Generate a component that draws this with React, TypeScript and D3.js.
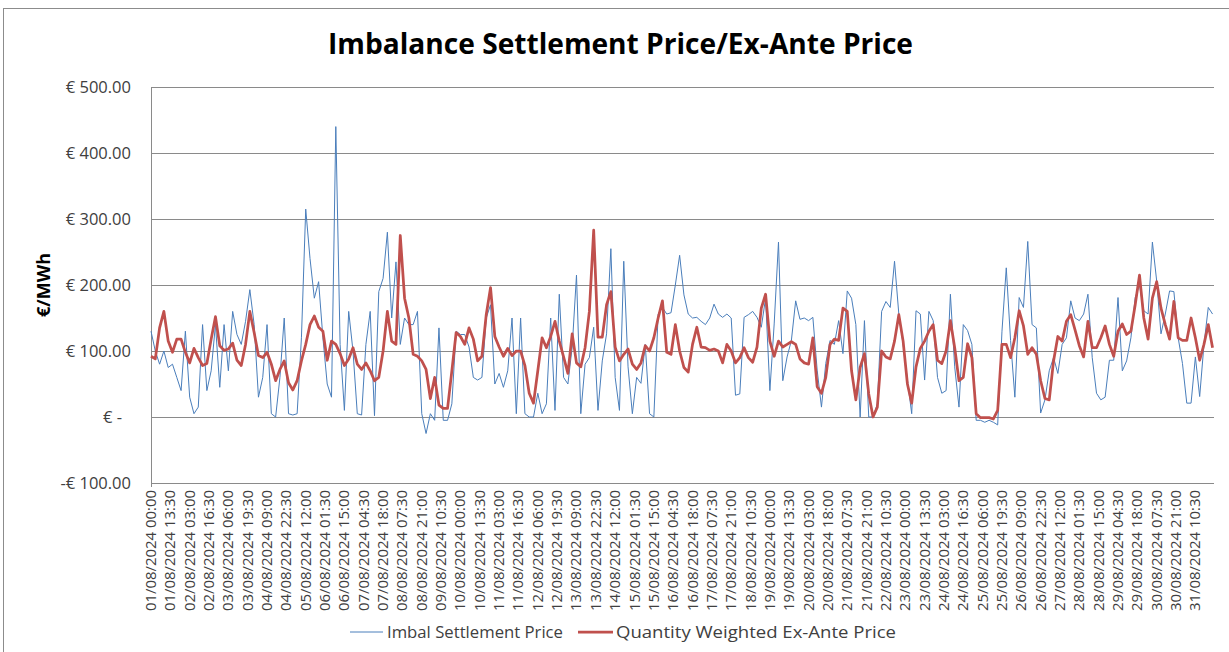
import * as d3 from "d3";
import React from "react";

// category labels on the x axis (every 27 half-hour slots)
const xLabels = [
  "01/08/2024 00:00", "01/08/2024 13:30", "02/08/2024 03:00", "02/08/2024 16:30",
  "03/08/2024 06:00", "03/08/2024 19:30", "04/08/2024 09:00", "04/08/2024 22:30",
  "05/08/2024 12:00", "06/08/2024 01:30", "06/08/2024 15:00", "07/08/2024 04:30",
  "07/08/2024 18:00", "08/08/2024 07:30", "08/08/2024 21:00", "09/08/2024 10:30",
  "10/08/2024 00:00", "10/08/2024 13:30", "11/08/2024 03:00", "11/08/2024 16:30",
  "12/08/2024 06:00", "12/08/2024 19:30", "13/08/2024 09:00", "13/08/2024 22:30",
  "14/08/2024 12:00", "15/08/2024 01:30", "15/08/2024 15:00", "16/08/2024 04:30",
  "16/08/2024 18:00", "17/08/2024 07:30", "17/08/2024 21:00", "18/08/2024 10:30",
  "19/08/2024 00:00", "19/08/2024 13:30", "20/08/2024 03:00", "20/08/2024 18:00",
  "21/08/2024 07:30", "21/08/2024 21:00", "22/08/2024 10:30", "23/08/2024 00:00",
  "23/08/2024 13:30", "24/08/2024 03:00", "24/08/2024 16:30", "25/08/2024 06:00",
  "25/08/2024 19:30", "26/08/2024 09:00", "26/08/2024 22:30", "27/08/2024 12:00",
  "28/08/2024 01:30", "28/08/2024 15:00", "29/08/2024 04:30", "29/08/2024 18:00",
  "30/08/2024 07:30", "30/08/2024 21:00", "31/08/2024 10:30",
];
const LABEL_EVERY = 27;
const SLOTS = 1485; // half-hour slots in the month (a few missing)
const SAMPLE_STEP = 6; // values below are read every 3 hours

const yTicks = [-100, 0, 100, 200, 300, 400, 500];

// Imbal Settlement Price, €/MWh, one row per day
const imbalPrice = [
  130, 100, 80, 100, 75, 80, 60, 40,
  130, 30, 5, 15, 140, 40, 70, 140,
  45, 140, 70, 160, 125, 110, 145, 193,
  140, 30, 60, 140, 5, 0, 60, 150,
  5, 3, 5, 120, 315, 240, 180, 205,
  120, 50, 30, 440, 110, 10, 160, 100,
  5, 3, 110, 160, 2, 190, 210, 280,
  150, 235, 110, 150, 140, 140, 160, 5,
  -25, 5, -5, 135, -5, -5, 20, 130,
  125, 125, 106, 60, 56, 60, 150, 170,
  50, 66, 45, 70, 150, 5, 150, 5,
  0, 0, 36, 5, 20, 150, 10, 186,
  60, 50, 106, 215, 5, 80, 90, 136,
  10, 85, 126, 255, 60, 10, 236, 76,
  5, 60, 51, 110, 5, 0, 156, 166,
  156, 158, 200, 245, 185, 156, 150, 151,
  145, 140, 150, 171, 156, 151, 156, 150,
  33, 35, 151, 155, 160, 151, 136, 180,
  40, 141, 265, 55, 91, 116, 176, 148,
  150, 146, 151, 71, 15, 81, 116, 110,
  146, 96, 191, 180, 140, 0, 146, 0,
  0, 20, 160, 175, 166, 236, 156, 110,
  56, 5, 161, 156, 56, 160, 146, 60,
  36, 40, 186, 76, 15, 140, 131, 110,
  -5, -5, -8, -5, -8, -12, 130, 226,
  116, 30, 181, 166, 266, 140, 135, 6,
  26, 70, 90, 66, 110, 120, 176, 150,
  146, 156, 186, 90, 36, 26, 30, 86,
  86, 181, 70, 85, 120, 181, 200, 161,
  156, 265, 206, 126, 156, 191, 190, 120,
  81, 21, 21, 91, 31, 110, 166, 156,
];

// Quantity Weighted Ex-Ante Price, €/MWh, one row per day
const exAntePrice = [
  92, 88, 135, 160, 115, 98, 118, 118,
  98, 82, 104, 90, 78, 81, 118, 152,
  108, 101, 103, 112, 86, 78, 110, 160,
  128, 93, 90, 98, 80, 55, 72, 85,
  52, 41, 55, 85, 110, 140, 153, 136,
  130, 86, 115, 110, 96, 78, 88, 105,
  80, 72, 82, 70, 55, 60, 100, 160,
  115, 110, 275, 180, 150, 95, 92, 85,
  72, 28, 60, 18, 13, 13, 70, 128,
  122, 110, 135, 118, 85, 92, 155, 196,
  122, 106, 92, 104, 93, 100, 100, 78,
  36, 21, 70, 120, 105, 122, 145, 115,
  91, 66, 126, 82, 76, 105, 160, 283,
  121, 121, 170, 190, 106, 85, 95, 103,
  80, 72, 82, 108, 100, 120, 150, 176,
  98, 95, 140, 100, 75, 68, 110, 136,
  106, 105, 101, 103, 100, 82, 110, 100,
  82, 90, 105, 90, 83, 106, 165, 186,
  115, 92, 115, 106, 110, 114, 110, 88,
  82, 80, 120, 46, 36, 60, 110, 118,
  116, 165, 160, 70, 26, 75, 96, 35,
  0, 15, 100, 91, 88, 115, 155, 115,
  50, 21, 76, 104, 115, 130, 140, 86,
  81, 100, 146, 105, 55, 60, 111, 90,
  5, -1, -1, -1, -3, 10, 110, 110,
  90, 120, 161, 138, 95, 105, 95, 55,
  28, 26, 85, 122, 115, 145, 155, 132,
  108, 91, 145, 105, 105, 120, 138, 110,
  92, 130, 141, 125, 130, 170, 215, 150,
  118, 180, 205, 165, 140, 118, 175, 120,
  116, 116, 150, 120, 86, 110, 140, 105,
];

const W = 1229;
const H = 652;
const plot = { left: 151, right: 1214, top: 87, bottom: 483 };
const FONT = "'Open Sans', 'DejaVu Sans', sans-serif";
const BLUE = "#4a7ebb";
const RED = "#c0504d";
const GRID = "#8a8a8a";
const TEXT = "#404040";

const fmtEuro = (v: number) =>
  v === 0 ? "€ -" : (v < 0 ? "-€ " : "€ ") + Math.abs(v).toFixed(2);

const App: React.FC = () => {
  const x = d3.scaleLinear().domain([0, SLOTS - 1]).range([plot.left, plot.right]);
  const y = d3.scaleLinear().domain([-100, 500]).range([plot.bottom, plot.top]);

  const line = d3
    .line<number>()
    .x((_, i) => x(i * SAMPLE_STEP))
    .y((d) => y(d));

  return (
    <svg
      width={W}
      height={H}
      style={{ position: "absolute", left: 0, top: 0, background: "#fff" }}
      fontFamily={FONT}
    >
      <rect x={3.5} y={8.5} width={1300} height={700} fill="#fff" stroke="#8c8c8c" />

      <text
        x={620.5}
        y={54}
        textAnchor="middle"
        fontSize={29}
        fontWeight="bold"
        fill="#000"
        textLength={585}
        lengthAdjust="spacingAndGlyphs"
      >
        Imbalance Settlement Price/Ex-Ante Price
      </text>

      {/* gridlines */}
      {yTicks.map((t) => (
        <line
          key={t}
          x1={plot.left}
          x2={plot.right}
          y1={Math.round(y(t)) + 0.5}
          y2={Math.round(y(t)) + 0.5}
          stroke={GRID}
          strokeWidth={1}
        />
      ))}
      <line
        x1={plot.left + 0.5}
        x2={plot.left + 0.5}
        y1={plot.top}
        y2={plot.bottom + 4}
        stroke={GRID}
      />

      {/* y tick labels */}
      {yTicks.map((t) => (
        <text
          key={t}
          x={t === 0 ? 122 : 131}
          y={y(t)}
          dy="0.36em"
          textAnchor="end"
          fontSize={16.5}
          fill={TEXT}
        >
          {fmtEuro(t)}
        </text>
      ))}

      <text
        transform={`translate(50, 285) rotate(-90)`}
        textAnchor="middle"
        fontSize={17}
        fontWeight="bold"
        fill="#000"
        textLength={64}
        lengthAdjust="spacingAndGlyphs"
      >
        €/MWh
      </text>

      {/* x tick labels */}
      {xLabels.map((lab, i) => (
        <text
          key={lab}
          transform={`translate(${x(i * LABEL_EVERY) + 5}, 490) rotate(-90)`}
          textAnchor="end"
          fontSize={15}
          fill={TEXT}
          textLength={121}
          lengthAdjust="spacingAndGlyphs"
        >
          {lab}
        </text>
      ))}

      {/* series */}
      <path d={line(imbalPrice) ?? ""} fill="none" stroke={BLUE} strokeWidth={1} />
      <path
        d={line(exAntePrice) ?? ""}
        fill="none"
        stroke={RED}
        strokeWidth={2.75}
        strokeLinejoin="round"
      />

      {/* legend */}
      <line x1={350} x2={383} y1={632} y2={632} stroke={BLUE} strokeWidth={1} />
      <text
        x={387}
        y={638}
        fontSize={16}
        fill={TEXT}
        textLength={176}
        lengthAdjust="spacingAndGlyphs"
      >
        Imbal Settlement Price
      </text>
      <line x1={578} x2={613} y1={632} y2={632} stroke={RED} strokeWidth={2.75} />
      <text
        x={616}
        y={638}
        fontSize={16}
        fill={TEXT}
        textLength={280}
        lengthAdjust="spacingAndGlyphs"
      >
        Quantity Weighted Ex-Ante Price
      </text>
    </svg>
  );
};

export default App;
